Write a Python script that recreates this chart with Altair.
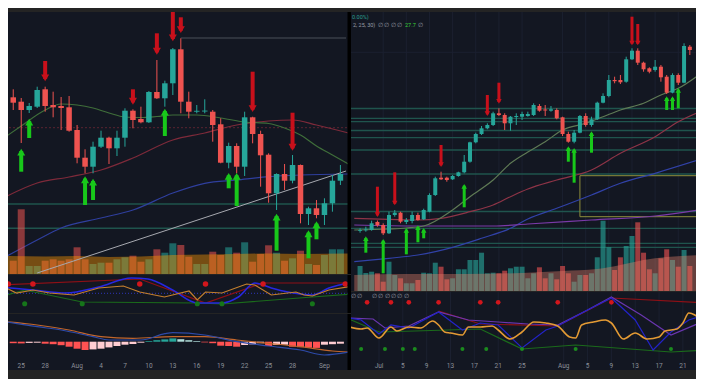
import altair as alt
import pandas as pd

BG = "#131722"
UP = "#26a69a"
DN = "#ef5350"
ARR_DN = "#c8101b"
ARR_UP = "#18c81a"
LEVEL = "#1f544d"
LBL = "#8c9099"

# ---------------- LEFT PANEL (day number counted from 1 Jul: 32 = 1 Aug, 63 = 1 Sep) ----------------
L_XDOM = [23.97, 65.70]
L_PDOM = [0, 262]
L_ODOM = [0, 38]
L_MDOM = [-28.3, 27.7]

L_day = list(range(24, 66))
L_open = [176.7, 172.3, 164, 167.3, 184.7, 169, 168, 166.7, 144, 116.3, 107.3, 127.3, 136.3, 125.7,
          136.3, 163.3, 155, 151.7, 182, 175.7, 190.7, 224.7, 172.3, 162.3, 162.5, 162.3, 149.7, 111.3,
          128, 107.3, 156.7, 140, 119.3, 80.7, 100, 93.3, 109, 60, 65.7, 59, 70.7, 93.3]
L_high = [184.7, 176, 171, 187.3, 187.3, 182.3, 177, 178, 149, 124.7, 132.3, 143.3, 137.3, 143.3,
          165.7, 164.7, 167.3, 183, 214, 193.3, 226, 235.7, 182.3, 169, 174.7, 164, 155.7, 131.3,
          130.7, 162.3, 157.3, 143.3, 120.7, 100.7, 110, 119, 109.5, 67.3, 74, 75.7, 99, 109]
L_low = [164, 131, 161, 166, 162.3, 156.7, 144, 142.3, 110.7, 100.7, 100.7, 126, 110, 118,
         127.3, 145.7, 150.7, 151, 175, 167.3, 179, 160.7, 155.7, 160.7, 160.7, 132.3, 110.7, 105.7,
         100.7, 98, 130.7, 87.3, 71.3, 64, 84, 90.7, 50.7, 49, 55.7, 49, 62.3, 89]
L_close = [171.3, 164, 168, 184, 168, 166.7, 166, 143.3, 116.3, 107.3, 127.3, 136.3, 125.7, 136.3,
           163.3, 154, 151.7, 182, 175.7, 190.7, 224.7, 172.3, 162.3, 163.2, 163.4, 149, 111.3, 128,
           107.3, 156.7, 140, 118.7, 80.7, 100, 93.3, 109, 60, 65.7, 59, 70.7, 93.3, 100]
L_vol = [13.3, 64.7, 8, 8, 13.3, 14.7, 13.3, 14.7, 26.7, 14.7, 10, 11.3, 11.3, 14.7, 16.7, 18.3,
         12.3, 14.7, 24.7, 21.3, 30.7, 29, 17.3, 10, 10, 22.3, 19, 26.7, 21.3, 31.7, 12.3, 20,
         28.7, 21.3, 13.3, 15.7, 23.3, 10, 9, 19, 24.7, 24.7]
L_volma_day = [23, 28, 32, 36, 40, 44, 48, 52, 56, 60, 66]
L_volma = [18, 17.5, 18, 17, 17.5, 19, 19.5, 20, 20.5, 20, 20.5]

L_ma_green_day = [23, 25, 28, 30, 32, 34, 36, 38, 40, 42, 44, 47, 50, 53, 56, 58, 60, 62, 64, 66]
L_ma_green = [137, 148, 164, 170, 169, 166, 161, 157, 156.5, 157.5, 159, 159, 156, 152, 150.5, 146, 139, 128, 119, 110]
L_ma_red_day = [23, 27, 31, 35, 39, 44, 48, 52, 56, 59, 62, 66]
L_ma_red = [77, 91, 97, 104, 116, 134, 141, 149, 153, 154, 149, 141]
L_ma_blue_day = [23, 27, 30, 35, 39, 44, 48, 52, 56, 60, 66]
L_ma_blue = [17, 34, 46, 56, 64, 81, 90.7, 94, 97.3, 99, 100]
L_trend_day = [27, 65.7]
L_trend = [1, 103]
L_levels = [70, 45.7]
L_dotted_level = [146.3]
L_high_line = [236]

L_dn_day = [28, 39, 42, 44, 45, 54, 59]
L_dn_tail = [213, 184.7, 240.7, 262.3, 256.7, 202.3, 161.3]
L_dn_head = [190.7, 167.3, 217.3, 230.7, 239, 160, 121.3]
L_up_day = [25, 26, 33, 34, 43, 51, 52, 57, 61, 62]
L_up_head = [127.3, 157.3, 99.7, 97.3, 167.3, 103, 103, 62.3, 45.7, 54.7]
L_up_tail = [102.3, 136, 69, 74, 138, 85.7, 68, 23.3, 15.7, 34.7]

L_osc_orange_day = [23, 25, 27, 29, 32, 35, 38, 40, 43, 46, 47, 48, 50, 53, 54, 56, 59, 60, 61, 63, 66]
L_osc_orange = [28, 20, 23, 20, 18, 25, 27, 21, 16, 22, 13, 21, 20, 29, 28, 18, 21, 18, 17, 23, 27]
L_osc_blue_day = [23, 27, 31, 35, 39, 41, 44, 47, 50, 52, 54, 56, 58, 61, 63, 66]
L_osc_blue = [26, 23, 20, 26, 35, 34, 23, 10, 10, 16, 30, 25, 21, 18, 25, 31]
L_osc_red_day = [23, 40, 48, 55, 66]
L_osc_red = [28, 34, 10, 30, 30]
L_osc_green_day = [23, 26, 33, 47, 50, 61, 66]
L_osc_green = [16, 23, 11, 10, 9, 16, 19]
L_osc_mid = [19.7]
L_red_dot_day = [24, 27, 40, 48, 55, 65]
L_red_dot = [29, 29, 29, 29, 29, 29]
L_green_dot_day = [26, 33, 47, 50, 61]
L_green_dot = [9.3, 9.3, 9.3, 9.3, 9.3]

L_hist = [-1.5, -1.7, -1.2, -1.0, -2.0, -2.5, -3.5, -5.0, -7.0, -8.3, -7.7, -7.0, -5.7, -4.3, -3.0,
          -2.3, -1.0, 0.7, 1.5, 2.3, 3.3, 2.5, 1.5, 0.7, -0.7, -1.5, -4.0, -4.3, -5.0, -3.3, -2.7,
          -1.5, -4.3, -3.3, -3.0, -5.0, -5.5, -6.0, -6.2, -3.0, -2.5, -2.0]
L_sig_day = [23, 27, 31, 35, 39, 44, 48, 52, 56, 60, 64, 66]
L_sig = [20, 16.7, 11.7, 5, 3.4, 5, 5, 1.7, -1.6, -5, -9.3, -10.5]
L_macd_day = [23, 27, 30, 34, 36, 40, 43, 44, 48, 52, 56, 60, 63, 66]
L_macd = [20, 15, 11.7, 5, 1.7, 1.7, 8, 9, 6.7, 0, -4.3, -8.3, -13.3, -10.5]

L_lab_day = [25, 28, 32, 35, 38, 41, 44, 47, 50, 53, 56, 59, 63]
L_lab = ["25", "28", "Aug", "4", "7", "10", "13", "16", "19", "22", "25", "28", "Sep"]

# ---------------- RIGHT PANEL ----------------
R_XDOM = [-3.7, 54.2]
R_PDOM = [0, 279]
R_ODOM = [0, 78]

R_day = list(range(-3, 55))
R_open = [60, 60.7, 61, 69, 66, 57.7, 76, 78.3, 69, 70, 76, 71.7, 79.3, 96, 113.3, 113.3, 111.7, 115,
          118.7, 129.3, 148.7, 157, 162.7, 166, 177.7, 176, 167.7, 174, 174.3, 175, 176, 185, 181.5,
          180.3, 181, 173.7, 157, 149.3, 158.3, 175, 166, 171.7, 188.3, 195, 211, 211, 209.3, 231.7,
          240.3, 228.3, 222.7, 221, 224.3, 214.3, 198.3, 216, 208.3, 244.3]
R_high = [62.7, 64.3, 70.3, 70.5, 67.7, 79.3, 81, 79.3, 73, 79.3, 78.3, 82.3, 97.7, 114.3, 119.3, 114.3,
          116, 119.3, 136, 149.3, 158.3, 165, 167.7, 179.3, 182.7, 177.7, 175, 177.7, 179.3, 179.3,
          187.7, 187, 186, 185, 182.7, 174.3, 159.3, 161, 176, 177.7, 174.3, 189.3, 197.7, 216, 214.3,
          216, 234.3, 242.7, 242.7, 229.3, 223.7, 231, 226, 216, 217.7, 217.7, 247.7, 246]
R_low = [58.3, 59.3, 60.3, 64.3, 56, 57, 74.3, 67.7, 67, 67.7, 70.3, 71, 78.7, 95, 111, 109.3, 111,
         114.3, 117.7, 128.3, 147.7, 156, 161.7, 165, 175, 161, 160.3, 166, 171, 174.3, 175, 179.3,
         175, 179.3, 171.7, 155, 148.3, 147.7, 157.7, 164.3, 164.3, 171, 187.7, 193.7, 207.7, 207,
         208.3, 231, 226, 219.3, 217.7, 219.3, 209.3, 197, 197.7, 206, 207.7, 236]
R_close = [60.8, 61.5, 67.7, 65.7, 57.7, 76, 78.3, 69.3, 71, 76, 71, 81, 96, 112.7, 111.7, 111, 115,
           118.7, 129.3, 148.7, 157, 162.7, 166, 177.7, 176, 167.7, 174.3, 175, 177, 177, 186, 180.3,
           180.5, 181.7, 172.7, 157, 149.3, 158.3, 175, 166, 171.7, 188.3, 195, 211, 209.8, 208.7,
           231.7, 240.3, 228.3, 221.7, 219.3, 224.3, 213.7, 198.3, 216, 208.3, 245, 241]
R_vol = [25, 18, 19.3, 17.7, 9.3, 29.3, 16, 12.7, 7.7, 7.7, 11, 18.3, 17.7, 28.3, 24.3, 11.7, 12.7,
         21.7, 21.7, 31, 31, 38.3, 17.7, 18.3, 17.7, 20.3, 22.7, 24.3, 24.3, 12.7, 17.7, 23.7, 12.7,
         17.7, 11.7, 25, 17.7, 9.3, 16, 16, 17.7, 33.7, 70.3, 43.7, 21, 33.7, 45, 55, 68.7, 38.3,
         21.7, 17.7, 32.7, 41.7, 31, 24.3, 41, 25]
R_volma_day = [-4, 5, 15, 25, 32, 38, 42, 46, 50, 56]
R_volma = [16, 17, 17, 18, 20, 22, 26, 31, 34, 36]

R_ma_green_day = [-4, 2, 5, 8, 13, 16, 20, 23, 26, 29, 32, 36, 39, 42, 46, 49, 52, 56]
R_ma_green = [61, 62, 63, 65, 81, 94.3, 111, 127.7, 139, 149.3, 161, 167.7, 174.3, 181, 187.7, 196, 202.7, 218]
R_ma_red_day = [-4, 2, 7, 11, 16, 20, 23, 26, 31, 37, 42, 48, 52, 56]
R_ma_red = [72.7, 71.7, 71, 72.7, 79.3, 86, 94.3, 102, 111, 121, 137.7, 154.3, 169.3, 180]
R_ma_blue_day = [-4, 2, 7, 13, 18, 23, 26, 31, 37, 42, 48, 56]
R_ma_blue = [29.3, 32.7, 36, 43.7, 52.7, 62.7, 72, 82.7, 96, 107.7, 117.7, 132]
R_ma_purple_day = [-4, 7, 20, 26, 37, 48, 56]
R_ma_purple = [66, 65, 65, 67, 71, 75, 81.5]
R_levels = [182.5, 172.7, 169.3, 160.5, 153.3, 141, 117, 79.5, 62.7, 47.7, 43.7]
R_grid_levels = [238.7]
R_box_day = [35.0]
R_box_day2 = [57.0]
R_box_lo = [74.3]
R_box_hi = [115.3]

R_dn_day = [0, 3, 11, 19, 21, 44, 45]
R_dn_tail = [104.3, 118.7, 146, 196, 208.3, 274.3, 267]
R_dn_head = [72.7, 84.3, 122.7, 173.7, 186, 244.3, 244.3]
R_up_day = [-2, 1, 5, 7, 8, 15, 33, 34, 37, 50, 51, 52]
R_up_head = [56, 53.3, 64.3, 67, 64.3, 108.3, 146, 144.3, 161, 196, 196, 204.3]
R_up_tail = [38.3, 17.7, 36.7, 48.7, 52.7, 83.7, 129.3, 108.3, 138.3, 181, 181, 182.7]

R_osc_orange_day = [-4, -2, -1, 1, 3, 4, 6, 8, 10, 11, 12, 13, 15, 16, 18, 20, 21, 23, 25, 27, 29, 31,
                    33, 34, 35, 37, 39, 40, 42, 44, 46, 48, 49, 51, 52, 53, 54, 56]
R_osc_orange = [43, 41, 42, 32, 43, 39, 43, 42, 49, 45, 38, 37, 35, 43, 43, 44, 40, 31, 38, 48, 47, 44,
                33, 32, 45, 48, 50, 47, 31, 37, 31, 33, 39, 41, 47, 57, 55, 42]
R_osc_blue_day = [-4, -2, 1, 3, 6, 11, 15, 18, 21, 25, 29, 31, 36, 40, 44, 47, 50, 53, 56]
R_osc_blue = [52, 50, 36, 45, 42, 58, 40, 47, 45, 22, 40, 44, 60, 72, 50, 20, 38, 50, 56]
R_osc_purple_day = [-4, 0, 2, 6, 11, 16, 21, 26, 31, 36, 40, 45, 50, 56]
R_osc_purple = [52, 51, 42, 44, 58, 50, 48, 46, 45, 60, 73, 55, 35, 50]
R_osc_red_day = [11, 18, 31, 40, 56]
R_osc_red = [59, 46, 44, 72, 67]
R_osc_green_day = [-4, 1, 7, 18, 25, 34, 50, 56]
R_osc_green = [51, 38, 39, 41, 21, 25, 18, 20]
R_red_dot_day = [-1, 3, 6, 11, 18, 21, 31, 40]
R_red_dot = [67.7] * 8
R_green_dot_day = [-2, 2, 5, 7, 15, 19, 25, 34, 50]
R_green_dot = [21] * 9

R_lab_day = [1, 5, 9, 13, 17, 21, 25, 32, 36, 40, 44, 48, 52]
R_lab = ["Jul", "5", "9", "13", "17", "21", "25", "Aug", "5", "9", "13", "17", "21"]


# ---------------- helpers ----------------
def xs(dom, field="day"):
    return alt.X(f"{field}:Q", scale=alt.Scale(domain=dom, nice=False, zero=False), axis=None)


def ys(field, dom):
    return alt.Y(f"{field}:Q", scale=alt.Scale(domain=dom, nice=False, zero=False), axis=None, stack=None)


def line(days, vals, xd, yd, color, w=1.0, dash=None, interp="monotone"):
    df = pd.DataFrame({"day": days, "v": vals})
    kw = dict(color=color, strokeWidth=w, clip=True, interpolate=interp)
    if dash:
        kw["strokeDash"] = dash
    return alt.Chart(df).mark_line(**kw).encode(x=xs(xd), y=ys("v", yd))


def dots(days, vals, xd, yd, color, size):
    df = pd.DataFrame({"day": days, "v": vals})
    return alt.Chart(df).mark_circle(color=color, size=size, opacity=1, clip=True).encode(
        x=xs(xd), y=ys("v", yd))


def levels(vals, yd, color, w=1.3, dash=None):
    df = pd.DataFrame({"v": vals})
    kw = dict(color=color, strokeWidth=w, clip=True)
    if dash:
        kw["strokeDash"] = dash
    return alt.Chart(df).mark_rule(**kw).encode(y=ys("v", yd))


def candle_layers(days, o, h, l, c, xd, yd, body):
    df = pd.DataFrame({"day": days, "o": o, "h": h, "l": l, "c": c})
    df["col"] = [UP if cc >= oo else DN for oo, cc in zip(o, c)]
    base = alt.Chart(df)
    wick = base.mark_rule(strokeWidth=1, clip=True).encode(
        x=xs(xd), y=ys("l", yd), y2="h:Q", color=alt.Color("col:N", scale=None))
    bod = base.mark_bar(size=body, clip=True).encode(
        x=xs(xd), y=ys("o", yd), y2="c:Q", color=alt.Color("col:N", scale=None))
    return [wick, bod]


def volume_layers(days, o, c, v, ma_day, ma, xd, yd, width, ma_color, ma_op, bar_op):
    df = pd.DataFrame({"day": days, "v": v, "z": [0] * len(days)})
    df["col"] = [UP if cc >= oo else DN for oo, cc in zip(o, c)]
    bars = alt.Chart(df).mark_bar(size=width, opacity=bar_op, clip=True).encode(
        x=xs(xd), y=ys("v", yd), y2="z:Q", color=alt.Color("col:N", scale=None))
    dma = pd.DataFrame({"day": ma_day, "v": ma, "z": [0] * len(ma_day)})
    area = alt.Chart(dma).mark_area(color=ma_color, opacity=ma_op, interpolate="monotone", clip=True).encode(
        x=xs(xd), y=ys("v", yd), y2="z:Q")
    return [bars, area]


def arrow_layers(days, tail, head, xd, yd, color, down, width, size, tip):
    df = pd.DataFrame({"day": days, "tail": tail, "head": head})
    shaft = alt.Chart(df).mark_rule(strokeWidth=width, color=color, clip=True,
                                    y2Offset=(-tip * 0.8 if down else tip * 0.8)).encode(
        x=xs(xd), y=ys("tail", yd), y2="head:Q")
    hd = alt.Chart(df).mark_point(shape="triangle-down" if down else "triangle-up", filled=True,
                                  size=size, color=color, opacity=1, clip=True,
                                  yOffset=(-tip if down else tip)).encode(
        x=xs(xd), y=ys("head", yd))
    return [shaft, hd]


def date_labels(days, labs, xd, ypix):
    df = pd.DataFrame({"day": days, "lab": labs})
    return alt.Chart(df).mark_text(fontSize=6.5, color=LBL, font="Roboto", baseline="middle",
                                   align="center").encode(x=xs(xd), y=alt.value(ypix), text="lab:N")


def label(txt, xpix, ypix, color, size=5.5):
    return alt.Chart(pd.DataFrame({"t": [txt]})).mark_text(
        fontSize=size, color=color, font="Roboto", align="left", baseline="middle").encode(
        x=alt.value(xpix), y=alt.value(ypix), text="t:N")


def divider(h):
    return alt.Chart(pd.DataFrame({"t": [0]})).mark_rule(color="#000000", strokeWidth=3.5, clip=True).encode(
        x=alt.value(341.25), y=alt.value(0), y2=alt.value(h))


LW = 343

# ---------------- left price pane ----------------
hl = pd.DataFrame({"day": [45], "day2": [L_XDOM[1]], "v": L_high_line})
high_line = alt.Chart(hl).mark_rule(color="#4b5059", strokeWidth=1, clip=True).encode(
    x=xs(L_XDOM), x2="day2:Q", y=ys("v", L_PDOM))

lp_layers = [
    levels(L_levels, L_PDOM, LEVEL, 1.5),
    levels(L_dotted_level, L_PDOM, "#5a2430", 1, [2, 2]),
    high_line,
    line(L_ma_blue_day, L_ma_blue, L_XDOM, L_PDOM, "#2f3f9e", 1.2),
    line(L_ma_red_day, L_ma_red, L_XDOM, L_PDOM, "#7e2a3a", 1.2),
    line(L_ma_green_day, L_ma_green, L_XDOM, L_PDOM, "#3f6e3a", 1.2),
]
lp_layers += volume_layers(L_day, L_open, L_close, L_vol, L_volma_day, L_volma, L_XDOM, L_PDOM, 7,
                           "#ff9800", 0.42, 0.55)
lp_layers.append(line(L_trend_day, L_trend, L_XDOM, L_PDOM, "#a7a9b0", 1, interp="linear"))
lp_layers += candle_layers(L_day, L_open, L_high, L_low, L_close, L_XDOM, L_PDOM, 5.5)
lp_layers += arrow_layers(L_dn_day, L_dn_tail, L_dn_head, L_XDOM, L_PDOM, ARR_DN, True, 4, 64, 5.4)
lp_layers += arrow_layers(L_up_day, L_up_tail, L_up_head, L_XDOM, L_PDOM, ARR_UP, False, 4, 64, 5.4)
lp_layers.append(divider(262))
left_price = alt.layer(*lp_layers).properties(width=LW, height=262)

# ---------------- left oscillator pane ----------------
left_osc = alt.layer(
    levels(L_osc_mid, L_ODOM, "#2e35b8", 1, [1, 2]),
    line(L_osc_red_day, L_osc_red, L_XDOM, L_ODOM, "#8e1016", 1.2, interp="linear"),
    line(L_osc_green_day, L_osc_green, L_XDOM, L_ODOM, "#1b6b1b", 1.2, interp="linear"),
    line(L_osc_blue_day, L_osc_blue, L_XDOM, L_ODOM, "#2727e0", 1.6),
    line(L_osc_orange_day, L_osc_orange, L_XDOM, L_ODOM, "#c47f2e", 1.2, interp="linear"),
    dots(L_red_dot_day, L_red_dot, L_XDOM, L_ODOM, "#d2161c", 30),
    dots(L_green_dot_day, L_green_dot, L_XDOM, L_ODOM, "#16751a", 26),
    divider(38),
).properties(width=LW, height=38)

# ---------------- left MACD pane ----------------
hist_col = []
prev = 0
for hv in L_hist:
    if hv >= 0:
        hist_col.append("#26a69a" if hv >= prev else "#b2dfdb")
    else:
        hist_col.append("#ff5252" if hv <= prev else "#ffcdd2")
    prev = hv
hdf = pd.DataFrame({"day": L_day, "h": L_hist, "z": [0] * len(L_day), "col": hist_col})
hist = alt.Chart(hdf).mark_bar(size=7, clip=True).encode(
    x=xs(L_XDOM), y=ys("h", L_MDOM), y2="z:Q", color=alt.Color("col:N", scale=None))
left_macd = alt.layer(
    hist,
    line(L_sig_day, L_sig, L_XDOM, L_MDOM, "#c2662c", 1.2),
    line(L_macd_day, L_macd, L_XDOM, L_MDOM, "#2d4aa8", 1.2),
    date_labels(L_lab_day, L_lab, L_XDOM, 52),
    divider(56),
).properties(width=LW, height=56)

# ---------------- right price pane ----------------
gdf = pd.DataFrame({"day": R_lab_day})
vgrid = alt.Chart(gdf).mark_rule(color="#1b2030", strokeWidth=1, clip=True).encode(x=xs(R_XDOM))
bdf = pd.DataFrame({"day": R_box_day, "day2": R_box_day2, "lo": R_box_lo, "hi": R_box_hi})
box = alt.Chart(bdf).mark_rect(fillOpacity=0, stroke="#8e8e3c", strokeWidth=1, clip=True).encode(
    x=xs(R_XDOM), x2="day2:Q", y=ys("lo", R_PDOM), y2="hi:Q")

rp_layers = [
    vgrid,
    levels(R_grid_levels, R_PDOM, "#1b2030", 1),
    levels(R_levels, R_PDOM, LEVEL, 1.3),
    box,
    line(R_ma_blue_day, R_ma_blue, R_XDOM, R_PDOM, "#3142a8", 1.2),
    line(R_ma_purple_day, R_ma_purple, R_XDOM, R_PDOM, "#7a3aa8", 1.2),
    line(R_ma_red_day, R_ma_red, R_XDOM, R_PDOM, "#8e3447", 1.2),
    line(R_ma_green_day, R_ma_green, R_XDOM, R_PDOM, "#5f7a55", 1.2),
]
rp_layers += volume_layers(R_day, R_open, R_close, R_vol, R_volma_day, R_volma, R_XDOM, R_PDOM, 5,
                           "#e0806a", 0.4, 0.62)
rp_layers += candle_layers(R_day, R_open, R_high, R_low, R_close, R_XDOM, R_PDOM, 4)
rp_layers += arrow_layers(R_dn_day, R_dn_tail, R_dn_head, R_XDOM, R_PDOM, ARR_DN, True, 3, 30, 3.7)
rp_layers += arrow_layers(R_up_day, R_up_tail, R_up_head, R_XDOM, R_PDOM, ARR_UP, False, 3, 30, 3.7)
rp_layers += [
    label("0.00%)", 1, 5, "#2a9d8f"),
    label("2, 25, 30)", 2, 13, "#9a9ea6"),
    label("\u2205 \u2205 \u2205 \u2205", 27, 13, "#9a9ea6"),
    label("27.7", 54, 13, "#39d03a"),
    label("\u2205", 67, 13, "#9a9ea6"),
]
right_price = alt.layer(*rp_layers).properties(width=345, height=279)

# ---------------- right oscillator pane ----------------
right_osc = alt.layer(
    alt.Chart(gdf).mark_rule(color="#1b2030", strokeWidth=1, clip=True).encode(x=xs(R_XDOM)),
    line(R_osc_red_day, R_osc_red, R_XDOM, R_ODOM, "#8e1016", 1.2, interp="linear"),
    line(R_osc_green_day, R_osc_green, R_XDOM, R_ODOM, "#1b6b1b", 1.2, interp="linear"),
    line(R_osc_purple_day, R_osc_purple, R_XDOM, R_ODOM, "#6a36b0", 1.2, interp="linear"),
    line(R_osc_blue_day, R_osc_blue, R_XDOM, R_ODOM, "#2323c8", 1.2, interp="linear"),
    line(R_osc_orange_day, R_osc_orange, R_XDOM, R_ODOM, "#e39a34", 1.6),
    dots(R_red_dot_day, R_red_dot, R_XDOM, R_ODOM, "#d2161c", 22),
    dots(R_green_dot_day, R_green_dot, R_XDOM, R_ODOM, "#1b8a1e", 16),
    label("\u2205 \u2205", 0, 4, "#9a9ea6", 5.5),
    label("\u2205 \u2205 \u2205 \u2205 \u2205 \u2205", 21, 4, "#9a9ea6", 5.5),
    date_labels(R_lab_day, R_lab, R_XDOM, 74),
).properties(width=345, height=78)

left = alt.vconcat(left_price, left_osc, left_macd, spacing=1).resolve_scale(x="independent", y="independent")
right = alt.vconcat(right_price, right_osc, spacing=1).resolve_scale(x="independent", y="independent")

chart = alt.hconcat(left, right, spacing=0).resolve_scale(
    x="independent", y="independent"
).properties(
    background="#242424",
    padding={"left": 0, "right": 0, "top": 4, "bottom": 9},
).configure_view(stroke=None, fill=BG)

chart.save("out.html", embed_options={"renderer": "svg", "actions": False})
